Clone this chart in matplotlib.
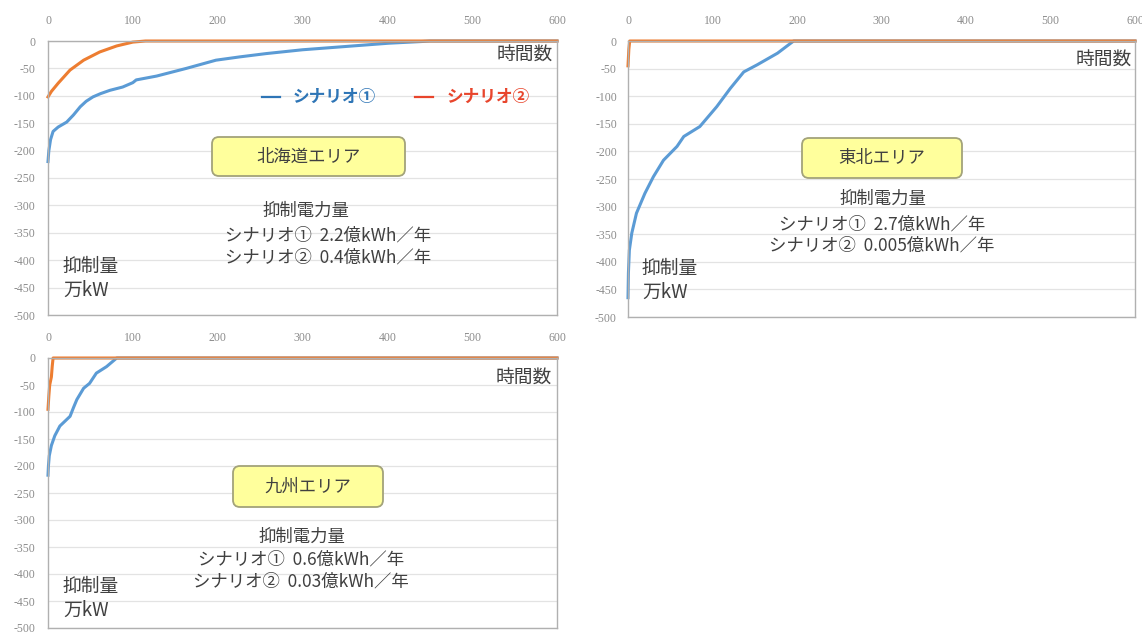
import matplotlib
matplotlib.use('Agg')
import matplotlib.pyplot as plt
from matplotlib.lines import Line2D
from matplotlib.patches import FancyBboxPatch
from matplotlib.transforms import IdentityTransform

plt.rcParams['font.family'] = ['Noto Sans CJK JP', 'DejaVu Sans']
plt.rcParams['axes.unicode_minus'] = False

W, H = 1142, 637

# 北海道エリア
hok_s1_hours = [0, 1, 3, 6, 12, 22, 30, 38, 45, 53, 62, 73, 88, 100, 104, 128, 163, 198, 226, 257, 300, 351, 402, 440, 450, 600]
hok_s1_mw = [-220, -200, -180, -165, -157, -148, -135, -120, -110, -102, -96, -90, -84, -76, -71, -64, -50, -35, -29, -23, -16, -10, -4, -1, 0, 0]
hok_s2_hours = [0, 4, 12, 26, 42, 61, 81, 100, 115, 600]
hok_s2_mw = [-102, -92, -77, -53, -35, -20, -9, -2, 0, 0]

# 東北エリア
toh_s1_hours = [0, 0.5, 1.6, 4.5, 10, 20, 30, 42, 58, 66, 85, 105, 121, 137, 153, 177, 196, 600]
toh_s1_mw = [-465, -420, -379, -348, -312, -276, -246, -216, -191, -173, -155, -119, -86, -56, -43, -22, 0, 0]
toh_s2_hours = [0, 1, 2, 600]
toh_s2_mw = [-45, -15, 0, 0]

# 九州エリア
kyu_s1_hours = [0, 0.5, 1.5, 4, 8, 14, 20, 26, 30, 34, 42, 49, 57, 69, 81, 600]
kyu_s1_mw = [-217, -200, -181, -162, -144, -126, -117, -108, -92, -77, -56, -47, -28, -16, 0, 0]
kyu_s2_hours = [0, 1, 2, 4, 5, 6, 600]
kyu_s2_mw = [-95, -70, -50, -35, -15, 0, 0]

x_ticks = [0, 100, 200, 300, 400, 500, 600]
y_ticks = [0, -50, -100, -150, -200, -250, -300, -350, -400, -450, -500]

area_names = ['北海道エリア', '東北エリア', '九州エリア']
energy_s1 = ['2.2', '2.7', '0.6']
energy_s2 = ['0.4', '0.005', '0.03']

BLUE = '#5B9BD5'
ORANGE = '#ED7D31'
TXT = '#404040'

fig = plt.figure(figsize=(W / 100, H / 100), dpi=100)


def px_axes(x0, y0, x1, y1):
	return fig.add_axes([x0 / W, 1 - y1 / H, (x1 - x0) / W, (y1 - y0) / H])


def ftext(x, y, s, **kw):
	kw.setdefault('color', TXT)
	kw.setdefault('va', 'center')
	fig.text(x / W, 1 - y / H, s, **kw)


def box(x0, y0, x1, y1):
	p = FancyBboxPatch((x0, H - y1), x1 - x0, y1 - y0,
		boxstyle='round,pad=0,rounding_size=7', transform=IdentityTransform(),
		fc='#FFFF9C', ec='#A3A37A', lw=1.3)
	fig.add_artist(p)


def dash(x0, x1, y, color):
	fig.add_artist(Line2D([x0, x1], [H - y, H - y], transform=IdentityTransform(), color=color, lw=1.6))


def panel(rect, s1, s2, xpad, ypad):
	ax = px_axes(*rect)
	ax.set_xlim(0, 600)
	ax.set_ylim(-500, 0)
	ax.set_xticks(x_ticks)
	ax.set_yticks(y_ticks)
	ax.xaxis.tick_top()
	ax.tick_params(length=0, labelsize=8.5, labelcolor='#8C8C8C')
	ax.tick_params(axis='x', pad=xpad)
	ax.tick_params(axis='y', pad=ypad)
	for lab in ax.get_xticklabels() + ax.get_yticklabels():
		lab.set_family('Liberation Serif')
	ax.grid(axis='y', color='#E3E3E3', lw=0.9)
	ax.set_axisbelow(True)
	for sp in ax.spines.values():
		sp.set_color('#B0B0B0')
		sp.set_linewidth(1.0)
	ax.plot(s1[0], s1[1], color=BLUE, lw=2.2, solid_joinstyle='round', clip_on=False)
	ax.plot(s2[0], s2[1], color=ORANGE, lw=2.2, solid_joinstyle='round', clip_on=False)
	return ax


panel((48, 41, 557, 315), (hok_s1_hours, hok_s1_mw), (hok_s2_hours, hok_s2_mw), 10, 9)
panel((628, 41, 1135, 317), (toh_s1_hours, toh_s1_mw), (toh_s2_hours, toh_s2_mw), 10, 8)
panel((48, 358, 557, 628), (kyu_s1_hours, kyu_s1_mw), (kyu_s2_hours, kyu_s2_mw), 10, 9)

# 時間数 / 抑制量
for x, y in [(553, 55), (1132, 60), (552, 378)]:
	ftext(x, y, '時間数', fontsize=13.5, ha='right')
for x, y in [(63, 266), (642, 268), (63, 586)]:
	ftext(x, y, '抑制量', fontsize=13.5, ha='left')
	ftext(x, y + 24, '万kW', fontsize=13.5, ha='left')

# legend
dash(262, 280, 97, '#2E75B6')
ftext(293, 97, 'シナリオ①', fontsize=12, ha='left', color='#2E75B6', fontweight='bold')
dash(415, 433, 97, '#E8452C')
ftext(447, 97, 'シナリオ②', fontsize=12, ha='left', color='#E8452C', fontweight='bold')

# area boxes and summary text
boxes = [(212, 137, 405, 176), (802, 138, 962, 178), (233, 466, 383, 507)]
title_pos = [(306, 211), (883, 199), (302, 537)]
line_pos = [(328, 236, 258), (882, 224, 246), (301, 560, 582)]
for i in range(3):
	x0, y0, x1, y1 = boxes[i]
	box(x0, y0, x1, y1)
	ftext((x0 + x1) / 2, (y0 + y1) / 2, area_names[i], fontsize=12.5, ha='center')
	tx, ty = title_pos[i]
	ftext(tx, ty, '抑制電力量', fontsize=12.5, ha='center')
	lx, ly1, ly2 = line_pos[i]
	ftext(lx, ly1, 'シナリオ①  ' + energy_s1[i] + '億kWh／年', fontsize=12.5, ha='center')
	ftext(lx, ly2, 'シナリオ②  ' + energy_s2[i] + '億kWh／年', fontsize=12.5, ha='center')

fig.savefig('out.png', dpi=100)
